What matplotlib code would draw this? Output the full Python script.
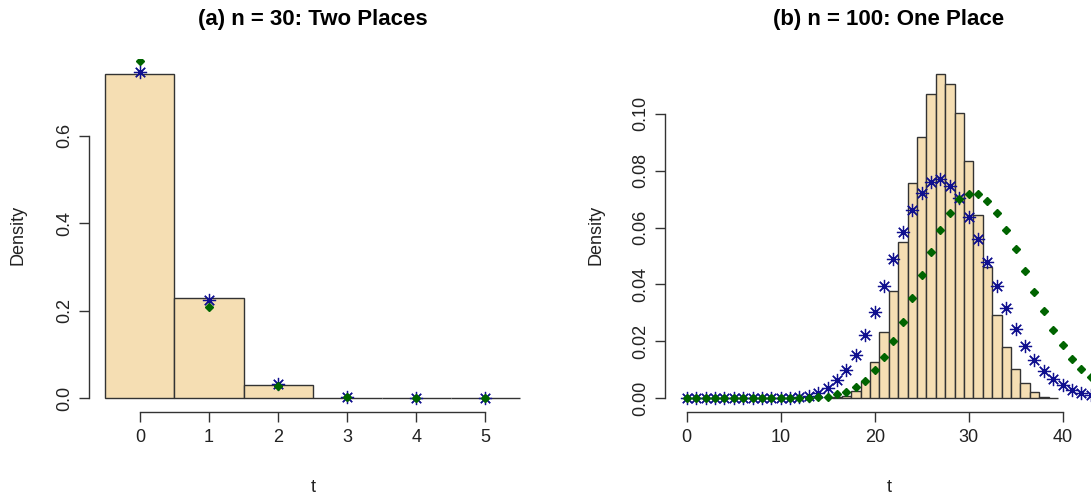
import matplotlib
matplotlib.use("Agg")
import matplotlib.pyplot as plt
import numpy as np

plt.rcParams['font.family'] = ['Liberation Sans', 'DejaVu Sans']

# panel (a): n = 30
t_a = [0, 1, 2, 3, 4, 5]
hist_a = [0.741, 0.2297, 0.0304, 0.0017, 0.0, 0.0]
star_a = [0.744, 0.2249, 0.033, 0.0023, 0.0, 0.0]
dot_a = [0.769, 0.209, 0.028, 0.002, 0.0, 0.0]

# panel (b): n = 100
t_hist_b = list(range(16, 40))
hist_b = [0.0003, 0.0009, 0.0026, 0.0062, 0.0129, 0.0234, 0.0377, 0.0548,
          0.0755, 0.0919, 0.107, 0.114, 0.1103, 0.1001, 0.0834, 0.0643,
          0.046, 0.0293, 0.0181, 0.0104, 0.0053, 0.0023, 0.0006, 0.0002]
t_pts_b = list(range(0, 45))
star_b = [0]*12 + [0.0004, 0.0009, 0.0018, 0.0035, 0.0063, 0.0099, 0.0153,
                   0.0221, 0.0303, 0.0395, 0.0489, 0.0583, 0.0662, 0.0723,
                   0.0759, 0.0769, 0.0747, 0.0702, 0.0638, 0.056, 0.0478,
                   0.0395, 0.0316, 0.0245, 0.0184, 0.0135, 0.0097, 0.0067,
                   0.0046, 0.0029, 0.0018, 0.0011, 0.0007]
dot_b = [0]*14 + [0.0003, 0.0006, 0.0014, 0.0021, 0.0038, 0.0062, 0.0098,
                  0.0144, 0.02, 0.0269, 0.0351, 0.0432, 0.0514, 0.0591,
                  0.0652, 0.0699, 0.0718, 0.0718, 0.0693, 0.065, 0.0591,
                  0.0523, 0.0448, 0.0375, 0.0306, 0.024, 0.0188, 0.0138,
                  0.0102, 0.0074, 0.0053]

W, H = 1091, 497
fig = plt.figure(figsize=(W/100, H/100), dpi=100)

def px_axes(x0, x1, y0, y1):
    return fig.add_axes([x0/W, 1 - y1/H, (x1 - x0)/W, (y1 - y0)/H])

fill = '#F5DEB3'
edge = '#333333'
star_col = '#10108f'
dot_col = '#006400'

def style(ax, xt, yt, ylabels):
    for s in ['top', 'right']:
        ax.spines[s].set_visible(False)
    for s in ['left', 'bottom']:
        ax.spines[s].set_color(edge)
        ax.spines[s].set_linewidth(1)
    ax.spines['bottom'].set_bounds(xt[0], xt[-1])
    ax.spines['left'].set_bounds(yt[0], yt[-1])
    ax.set_xticks(xt)
    ax.set_yticks(yt)
    ax.set_yticklabels(ylabels, rotation=90, va='center')
    ax.tick_params(length=7, width=1, color=edge, labelsize=13,
                   labelcolor='#222222')
    ax.tick_params(axis='x', pad=5.5)
    ax.tick_params(axis='y', pad=4)

# ---- left panel
ax1 = px_axes(89, 536.6, 59.3, 412)
ax1.bar(t_a, hist_a, width=1.0, color=fill, edgecolor=edge, linewidth=1)
ax1.plot(t_a, star_a, linestyle='none', marker=(8, 2, 0), ms=9.5,
         mew=0.9, color=star_col)
ax1.plot(t_a, dot_a, linestyle='none', marker='D', ms=4, color=dot_col)
ax1.set_xlim(-0.738, 5.744)
ax1.set_ylim(-0.0313, 0.774)
style(ax1, [0, 1, 2, 3, 4, 5], [0, 0.2, 0.4, 0.6], ['0.0', '0.2', '0.4', '0.6'])

# ---- right panel (runs past the right edge of the picture)
ax2 = px_axes(665, 1112.6, 59.3, 412)
ax2.bar(t_hist_b, hist_b, width=1.0, color=fill, edgecolor=edge, linewidth=1)
ax2.plot(t_pts_b, star_b, linestyle='none', marker=(8, 2, 0), ms=9.5,
         mew=0.9, color=star_col)
ax2.plot(t_pts_b, dot_b, linestyle='none', marker='D', ms=4, color=dot_col)
ax2.set_xlim(-2.309, 45.31)
ax2.set_ylim(-0.00481, 0.1191)
style(ax2, [0, 10, 20, 30, 40], [0, 0.02, 0.04, 0.06, 0.08, 0.10],
      ['0.00', '0.02', '0.04', '0.06', '0.08', '0.10'])

# titles and axis labels
fig.text(312.8/W, 1 - 20/H, '(a) n = 30: Two Places', ha='center',
         va='center', fontsize=16, fontweight='bold')
fig.text(888.8/W, 1 - 20/H, '(b) n = 100: One Place', ha='center',
         va='center', fontsize=16, fontweight='bold')
fig.text(312.8/W, 1 - 488/H, 't', ha='center', va='center', fontsize=13,
         color='#222222')
fig.text(888.8/W, 1 - 488/H, 't', ha='center', va='center', fontsize=13,
         color='#222222')
fig.text(18/W, 1 - 235/H, 'Density', rotation=90, ha='center', va='center',
         fontsize=13, color='#222222')
fig.text(595.6/W, 1 - 235/H, 'Density', rotation=90, ha='center',
         va='center', fontsize=13, color='#222222')

fig.savefig('out.png', dpi=100)
